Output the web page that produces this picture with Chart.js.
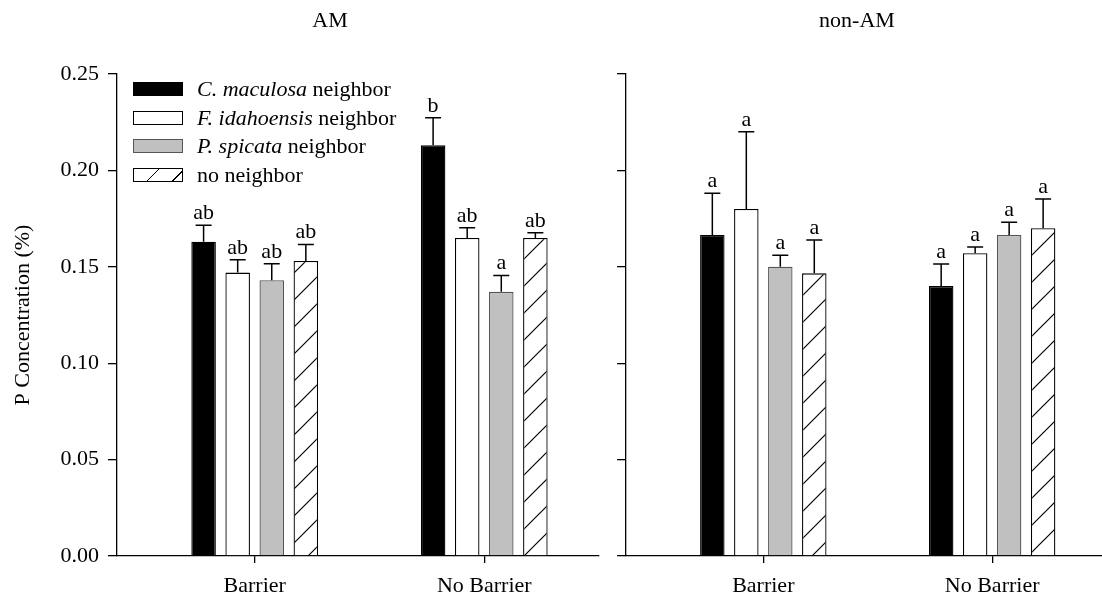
<!DOCTYPE html>
<html>
<head>
<meta charset="utf-8">
<script src="https://cdn.jsdelivr.net/npm/chart.js@4.4.1/dist/chart.umd.min.js"></script>
<style>
  body { margin: 0; background: #fff; }
  #wrap { position: relative; width: 1102px; height: 599px; overflow: hidden; }
  canvas { position: absolute; top: 0; }
  #amChart { left: 0; }
  #nonAmChart { left: 612px; }
  #legend { position: absolute; left: 133px; top: 75px; font: 22px "Liberation Serif", "Times New Roman", serif; color: #000; }
  #legend .row { display: flex; align-items: center; height: 28.6px; white-space: nowrap; }
  #legend .swatch { width: 48px; height: 12px; border: 1px solid #000; margin-right: 14px; }
</style>
</head>
<body>
<div id="wrap">
  <canvas id="amChart" width="660" height="599"></canvas>
  <canvas id="nonAmChart" width="490" height="599"></canvas>
  <div id="legend"></div>
</div>
<script>
// treatments on the x axis
const treatments = ["Barrier", "No Barrier"];
const treatmentPos = [1, 2];

// neighbor series
const seriesNames = ["C. maculosa neighbor", "F. idahoensis neighbor", "P. spicata neighbor", "no neighbor"];
const seriesItalic = ["C. maculosa", "F. idahoensis", "P. spicata", ""];

// AM plants: mean, SE, letters  (one row per series, [Barrier, No Barrier])
const amMean = [[0.163, 0.213], [0.147, 0.165], [0.143, 0.137], [0.153, 0.165]];
const amSE = [[0.0085, 0.0143], [0.0066, 0.0052], [0.0086, 0.0085], [0.0086, 0.0026]];
const amLetters = [["ab", "b"], ["ab", "ab"], ["ab", "a"], ["ab", "ab"]];

// non-AM plants
const nonAmMean = [[0.1665, 0.140], [0.180, 0.157], [0.150, 0.1665], [0.1466, 0.170]];
const nonAmSE = [[0.0216, 0.0115], [0.040, 0.0033], [0.006, 0.0066], [0.0173, 0.0152]];
const nonAmLetters = [["a", "a"], ["a", "a"], ["a", "a"], ["a", "a"]];

const yTicks = [0, 0.05, 0.10, 0.15, 0.20, 0.25];

const serif = '"Liberation Serif", "Times New Roman", serif';
Chart.defaults.font.family = serif;
Chart.defaults.font.size = 22;
Chart.defaults.color = "#000";

// diagonal hatch for the no-neighbor bars
function makeHatch() {
  const s = 27;
  const c = document.createElement("canvas");
  c.width = s; c.height = s;
  const g = c.getContext("2d");
  g.fillStyle = "#fff";
  g.fillRect(0, 0, s, s);
  g.strokeStyle = "#000";
  g.lineWidth = 1.2;
  g.beginPath();
  g.moveTo(0, s); g.lineTo(s, 0);
  g.moveTo(-s, s); g.lineTo(s, -s);
  g.moveTo(0, 2 * s); g.lineTo(2 * s, 0);
  g.stroke();
  return g.createPattern(c, "repeat");
}
const hatch = makeHatch();

const fills = ["#000", "#fff", "#c0c0c0", hatch];
const borders = ["#000", "#000", "#555", "#000"];

// error bars (upper only) and significance letters
const errorBars = {
  id: "errorBars",
  afterDatasetsDraw(chart, args, opts) {
    const ctx = chart.ctx;
    const y = chart.scales.y;
    ctx.save();
    ctx.strokeStyle = "#000";
    ctx.lineWidth = 1.5;
    ctx.fillStyle = "#000";
    ctx.font = "22px " + serif;
    ctx.textAlign = "center";
    ctx.textBaseline = "alphabetic";
    chart.data.datasets.forEach((ds, i) => {
      const meta = chart.getDatasetMeta(i);
      meta.data.forEach((bar, j) => {
        const v = ds.data[j].y;
        const top = y.getPixelForValue(v + opts.se[i][j]);
        const base = y.getPixelForValue(v);
        ctx.beginPath();
        ctx.moveTo(bar.x, base);
        ctx.lineTo(bar.x, top);
        ctx.moveTo(bar.x - 8, top);
        ctx.lineTo(bar.x + 8, top);
        ctx.stroke();
        ctx.fillText(opts.letters[i][j], bar.x, top - 6);
      });
    });
    ctx.restore();
  }
};

const panelTitle = {
  id: "panelTitle",
  afterDraw(chart, args, opts) {
    const ctx = chart.ctx;
    ctx.save();
    ctx.fillStyle = "#000";
    ctx.font = "22px " + serif;
    ctx.textAlign = "center";
    ctx.textBaseline = "middle";
    ctx.fillText(opts.text, chart.width / 2, 21);
    ctx.restore();
  }
};

function buildPanel(id, means, se, letters, cfg) {
  const datasets = seriesNames.map((name, i) => ({
    label: name,
    data: treatmentPos.map((x, j) => ({ x: x, y: means[i][j] })),
    backgroundColor: fills[i],
    borderColor: borders[i],
    borderWidth: 1.3,
    categoryPercentage: 0.594,
    barPercentage: 0.72
  }));

  return new Chart(document.getElementById(id), {
    type: "bar",
    data: { datasets: datasets },
    plugins: [errorBars, panelTitle],
    options: {
      responsive: false,
      animation: false,
      layout: { padding: { top: 74, right: cfg.padRight, bottom: 0, left: 0 } },
      plugins: {
        legend: { display: false },
        tooltip: { enabled: false },
        errorBars: { se: se, letters: letters },
        panelTitle: { text: cfg.title }
      },
      scales: {
        x: {
          type: "linear",
          offset: false,
          min: 0.4,
          max: cfg.xMax,
          afterBuildTicks: s => { s.ticks = treatmentPos.map(v => ({ value: v })); },
          afterFit: s => { s.height = 43; },
          ticks: {
            padding: 10,
            callback: v => treatments[treatmentPos.indexOf(v)]
          },
          grid: { drawOnChartArea: false, drawTicks: true, tickLength: 7, color: "#000", lineWidth: 1.3, offset: false },
          border: { display: true, color: "#000", width: 1.3 }
        },
        y: {
          min: 0,
          max: 0.25,
          afterBuildTicks: s => { s.ticks = yTicks.map(v => ({ value: v })); },
          afterFit: s => { s.width = cfg.yWidth; },
          ticks: {
            display: cfg.yLabels,
            padding: 9,
            callback: v => v.toFixed(2)
          },
          title: {
            display: cfg.yLabels,
            text: "P Concentration (%)",
            font: { size: 22 },
            padding: { top: 10, bottom: 0 }
          },
          grid: { drawOnChartArea: false, drawTicks: true, tickLength: 9, color: "#000", lineWidth: 1.3 },
          border: { display: true, color: "#000", width: 1.3 }
        }
      }
    }
  });
}

buildPanel("amChart", amMean, amSE, amLetters, { title: "AM", padRight: 61, xMax: 2.5, yWidth: 117, yLabels: true });
buildPanel("nonAmChart", nonAmMean, nonAmSE, nonAmLetters, { title: "non-AM", padRight: 0, xMax: 2.48, yWidth: 14, yLabels: false });

// legend with italic species names
const legend = document.getElementById("legend");
seriesNames.forEach((name, i) => {
  const row = document.createElement("div");
  row.className = "row";
  const sw = document.createElement("span");
  sw.className = "swatch";
  if (i === 3) {
    sw.style.background = "repeating-linear-gradient(135deg, #fff 0 17px, #000 17px 18.2px)";
  } else {
    sw.style.background = fills[i];
    sw.style.borderColor = borders[i];
  }
  row.appendChild(sw);
  const txt = document.createElement("span");
  if (seriesItalic[i]) {
    const it = document.createElement("i");
    it.textContent = seriesItalic[i];
    txt.appendChild(it);
    txt.appendChild(document.createTextNode(name.slice(seriesItalic[i].length)));
  } else {
    txt.textContent = name;
  }
  row.appendChild(txt);
  legend.appendChild(row);
});
</script>
</body>
</html>
